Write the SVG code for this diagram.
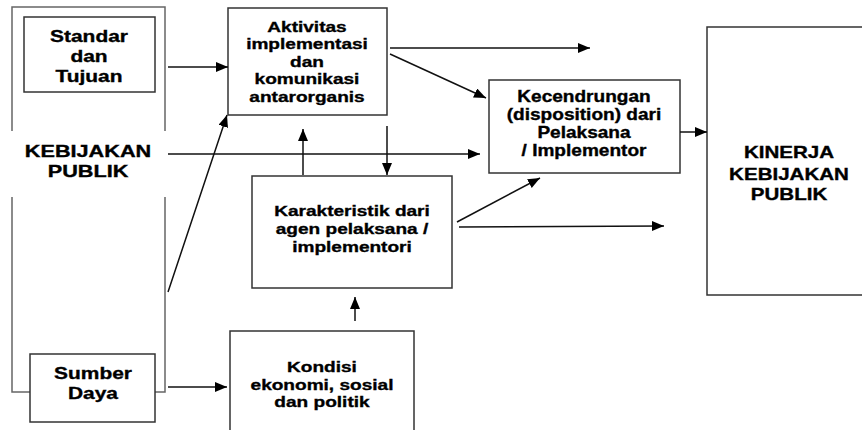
<svg xmlns="http://www.w3.org/2000/svg" width="862" height="430" viewBox="0 0 862 430">
<style>
.box{fill:#fff;stroke:#333;stroke-width:1.5}
.frame{fill:none;stroke:#666;stroke-width:1.5}
.conn{fill:none;stroke:#111;stroke-width:1.5;marker-end:url(#ah)}
.t{font-family:"Liberation Sans",Arial,sans-serif;font-weight:bold;fill:#000;stroke:#000;stroke-width:0.35;text-anchor:middle}
.s155{font-size:15.5px}
.s16{font-size:16.3px}
.s17{font-size:17px}
</style>
<defs>
<marker id="ah" markerUnits="userSpaceOnUse" markerWidth="13" markerHeight="11" refX="12" refY="5" orient="auto">
<path d="M0,0 L12,5 L0,10 z" fill="#000"/>
</marker>
</defs>
<rect width="862" height="430" fill="#fff"/>

<g id="kebijakan-publik">
<path class="frame" d="M12,131 V7 H165 V131 M12,197 V392 H30 M165,197 V392 H155"/>
<text class="t s16" transform="translate(88 0) scale(1.33 1)"><tspan x="0" y="157">KEBIJAKAN</tspan><tspan x="0" y="177">PUBLIK</tspan></text>
</g>

<g id="standar">
<rect class="box" x="24" y="17" width="131" height="75"/>
<text class="t s17" transform="translate(89 0) scale(1.23 1)"><tspan x="0" y="42">Standar</tspan><tspan x="0" y="62">dan</tspan><tspan x="0" y="82">Tujuan</tspan></text>
</g>

<g id="sumber">
<rect class="box" x="30" y="354" width="125" height="68"/>
<text class="t s17" transform="translate(93 0) scale(1.23 1)"><tspan x="0" y="379">Sumber</tspan><tspan x="0" y="399">Daya</tspan></text>
</g>

<g id="aktivitas">
<rect class="box" x="228" y="8" width="159" height="107"/>
<text class="t s155" transform="translate(307 0) scale(1.23 1)"><tspan x="0" y="32">Aktivitas</tspan><tspan x="0" y="49">implementasi</tspan><tspan x="0" y="67">dan</tspan><tspan x="0" y="84">komunikasi</tspan><tspan x="0" y="102">antarorganis</tspan></text>
</g>

<g id="karakteristik">
<rect class="box" x="252" y="176" width="200" height="112"/>
<text class="t s155" transform="translate(352 0) scale(1.23 1)"><tspan x="0" y="216">Karakteristik dari</tspan><tspan x="0" y="234">agen pelaksana /</tspan><tspan x="0" y="252">implementori</tspan></text>
</g>

<g id="kondisi">
<rect class="box" x="230" y="331" width="184" height="110"/>
<text class="t s155" transform="translate(322 0) scale(1.23 1)"><tspan x="0" y="372">Kondisi</tspan><tspan x="0" y="390">ekonomi, sosial</tspan><tspan x="0" y="407">dan politik</tspan></text>
</g>

<g id="kecendrungan">
<rect class="box" x="489" y="80" width="191" height="93"/>
<text class="t s16" transform="translate(584 0) scale(1.17 1)"><tspan x="0" y="102">Kecendrungan</tspan><tspan x="0" y="120">(disposition) dari</tspan><tspan x="0" y="138">Pelaksana</tspan><tspan x="0" y="156">/ Implementor</tspan></text>
</g>

<g id="kinerja">
<rect class="box" x="707" y="27" width="165" height="268"/>
<text class="t s16" transform="translate(789 0) scale(1.26 1)"><tspan x="0" y="158">KINERJA</tspan><tspan x="0" y="180">KEBIJAKAN</tspan><tspan x="0" y="200">PUBLIK</tspan></text>
</g>

<g id="connectors">
<line class="conn" x1="168" y1="67" x2="228" y2="67"/>
<line class="conn" x1="390" y1="48" x2="590" y2="48"/>
<line class="conn" x1="390" y1="54" x2="486" y2="98"/>
<line class="conn" x1="168" y1="154" x2="480" y2="154"/>
<line class="conn" x1="303" y1="175" x2="303" y2="129"/>
<line class="conn" x1="387" y1="126" x2="387" y2="175"/>
<line class="conn" x1="168" y1="292" x2="227" y2="115"/>
<line class="conn" x1="457" y1="222" x2="540" y2="178"/>
<line class="conn" x1="459" y1="227" x2="664" y2="226"/>
<line class="conn" x1="680" y1="132" x2="707" y2="132"/>
<line class="conn" x1="355" y1="321" x2="355" y2="297"/>
<line class="conn" x1="168" y1="387" x2="227" y2="387"/>
</g>
</svg>
